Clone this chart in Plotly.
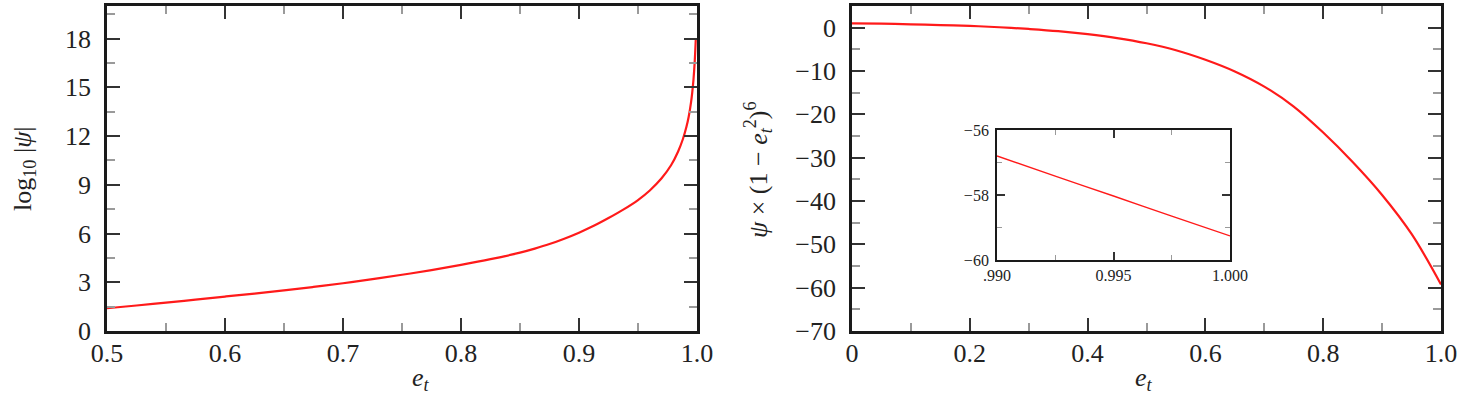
import plotly.graph_objects as go

# ---- data ----
e_left = [0.500, 0.525, 0.550, 0.575, 0.600, 0.625, 0.650, 0.675, 0.700, 0.725,
          0.750, 0.775, 0.800, 0.825, 0.850, 0.8625, 0.875, 0.8875, 0.900, 0.9125,
          0.925, 0.9375, 0.950, 0.960, 0.970, 0.978, 0.984, 0.988, 0.991, 0.993,
          0.995, 0.996, 0.997, 0.998, 0.999]
log_psi = [1.40, 1.57, 1.75, 1.93, 2.12, 2.30, 2.50, 2.71, 2.94, 3.19,
           3.46, 3.75, 4.07, 4.42, 4.82, 5.07, 5.35, 5.68, 6.05, 6.47,
           6.95, 7.47, 8.06, 8.65, 9.40, 10.20, 11.05, 11.80, 12.55, 13.20,
           14.10, 14.70, 15.45, 16.50, 18.00]

e_right = [0.00, 0.05, 0.10, 0.15, 0.20, 0.25, 0.30, 0.35, 0.40, 0.45, 0.50,
           0.55, 0.60, 0.65, 0.70, 0.75, 0.80, 0.85, 0.90, 0.95, 1.00]
psi_scaled = [1.00, 0.93, 0.78, 0.60, 0.40, 0.10, -0.30, -0.80, -1.50, -2.40, -3.60,
              -5.20, -7.40, -10.10, -13.60, -18.20, -24.20, -31.00, -38.60, -47.60,
              -59.26]

e_inset = [0.990, 0.9925, 0.995, 0.9975, 1.000]
psi_inset = [-56.80, -57.42, -58.03, -58.65, -59.26]

left_xticks = [0.5, 0.6, 0.7, 0.8, 0.9, 1.0]
left_xlabels = ["0.5", "0.6", "0.7", "0.8", "0.9", "1.0"]
left_yticks = [0, 3, 6, 9, 12, 15, 18]
right_xticks = [0, 0.2, 0.4, 0.6, 0.8, 1.0]
right_xlabels = ["0", "0.2", "0.4", "0.6", "0.8", "1.0"]
right_yticks = [0, -10, -20, -30, -40, -50, -60, -70]
inset_xticks = [0.990, 0.995, 1.000]
inset_xlabels = [".990", "0.995", "1.000"]
inset_yticks = [-56, -58, -60]

W, H = 1465, 402
FONT = "Liberation Serif"
RED = "#ff1a1a"


def px_x(p):
    return p / W


def px_y(p):
    return 1 - p / H


fig = go.Figure()
fig.add_trace(go.Scatter(x=e_left, y=log_psi, mode="lines", xaxis="x", yaxis="y",
                         line=dict(color=RED, width=2.2, shape="spline", smoothing=1.0),
                         showlegend=False))
fig.add_trace(go.Scatter(x=e_right, y=psi_scaled, mode="lines", xaxis="x2", yaxis="y2",
                         line=dict(color=RED, width=2.2, shape="spline", smoothing=1.0),
                         showlegend=False))
fig.add_trace(go.Scatter(x=e_inset, y=psi_inset, mode="lines", xaxis="x3", yaxis="y3",
                         line=dict(color=RED, width=1.4, shape="spline", smoothing=0.5),
                         showlegend=False))


def ax(big=True, **kw):
    d = dict(
        showgrid=False, zeroline=False, showline=True, automargin=False,
        linecolor="#1a1a1a", linewidth=2.6 if big else 1.8,
        mirror="allticks", ticks="inside",
        ticklen=13 if big else 8, tickwidth=2 if big else 1.5, tickcolor="#333",
        tickfont=dict(family=FONT, size=26 if big else 16, color="#222"),
        fixedrange=True,
    )
    d.update(kw)
    return d


minor_big = dict(ticklen=8, tickwidth=1.6, tickcolor="#9a9a9a", ticks="inside")
minor_small = dict(ticklen=5, tickwidth=1.2, tickcolor="#9a9a9a", ticks="inside")

fig.update_layout(
    width=W, height=H,
    margin=dict(l=0, r=0, t=0, b=0, autoexpand=False),
    paper_bgcolor="white", plot_bgcolor="white",
    xaxis=ax(domain=[px_x(107), px_x(697)], range=[0.5, 1.0], anchor="y",
             tickvals=left_xticks, ticktext=left_xlabels,
             minor=dict(dtick=0.05, **minor_big), ticklabelstandoff=-3),
    yaxis=ax(domain=[px_y(331), px_y(6)], range=[0, 20], anchor="x",
             tickvals=left_yticks, minor=dict(dtick=1.5, tick0=0, **minor_big),
             ticklabelstandoff=8),
    xaxis2=ax(domain=[px_x(852), px_x(1441)], range=[0, 1.0], anchor="y2",
              tickvals=right_xticks, ticktext=right_xlabels,
              minor=dict(dtick=0.1, **minor_big), ticklabelstandoff=-3),
    yaxis2=ax(domain=[px_y(331), px_y(6)], range=[-70, 5], anchor="x2",
              tickvals=right_yticks, minor=dict(dtick=5, tick0=0, **minor_big),
              ticklabelstandoff=8),
    xaxis3=ax(big=False, domain=[px_x(997), px_x(1230)], range=[0.99, 1.0], anchor="y3",
              tickvals=inset_xticks, ticktext=inset_xlabels,
              minor=dict(dtick=0.0025, tick0=0.99, **minor_small), ticklabelstandoff=0),
    yaxis3=ax(big=False, domain=[px_y(260), px_y(130)], range=[-60, -56], anchor="x3",
              tickvals=inset_yticks, minor=dict(dtick=1, tick0=-60, **minor_small),
              ticklabelstandoff=3),
)

title_font = dict(family=FONT, size=26, color="#222")
fig.add_annotation(x=px_x(410), y=px_y(397), xref="paper", yref="paper",
                   text="<i>e</i><sub><i>t</i></sub>", showarrow=False, font=title_font)
fig.add_annotation(x=px_x(1155), y=px_y(397), xref="paper", yref="paper",
                   text="<i>e</i><sub><i>t</i></sub>", showarrow=False, font=title_font)
fig.add_annotation(x=px_x(6), y=px_y(169), xref="paper", yref="paper",
                   text="log<sub>10</sub> |<i>ψ</i>|", textangle=-90,
                   showarrow=False, font=title_font)
fig.add_annotation(x=px_x(758), y=px_y(170), xref="paper", yref="paper",
                   text="<i>ψ</i> × (1 − <i>e</i><sub><i>t</i></sub><sup>2</sup>)<sup>6</sup>",
                   textangle=-90, showarrow=False, font=title_font)

fig.write_html("out.html")
